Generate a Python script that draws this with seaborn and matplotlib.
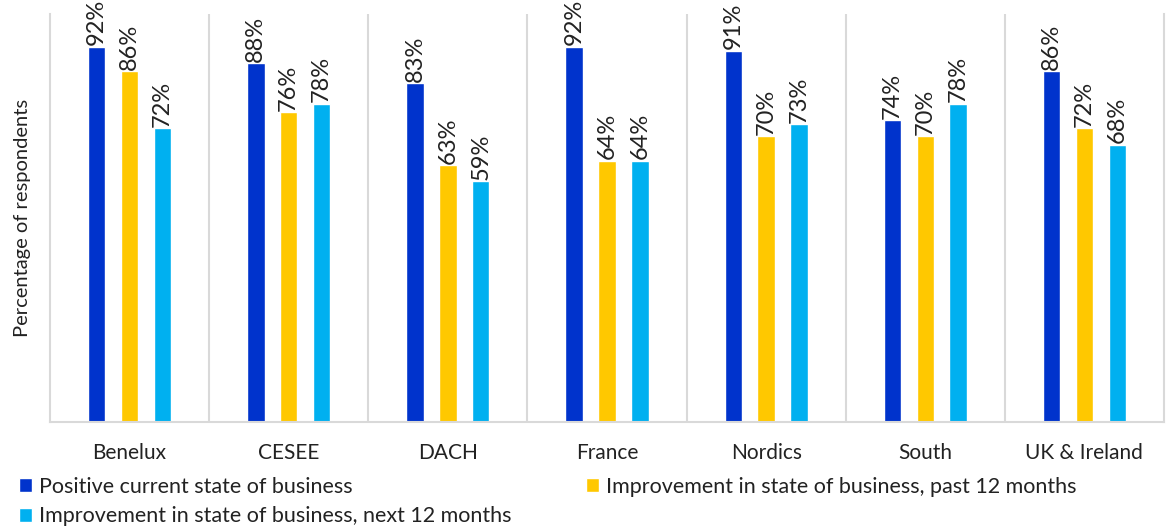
import pandas as pd
import matplotlib.pyplot as plt
import seaborn as sns

# Data
regions = ['Benelux', 'CESEE', 'DACH', 'France', 'Nordics', 'South', 'UK & Ireland']
series = ['Positive current state of business',
          'Improvement in state of business, past 12 months',
          'Improvement in state of business, next 12 months']
positive_now = [92, 88, 83, 92, 91, 74, 86]
improved_past = [86, 76, 63, 64, 70, 70, 72]
improve_next = [72, 78, 59, 64, 73, 78, 68]
colors = ['#0033CC', '#FFC800', '#00B0F0']

df = pd.DataFrame({
    'region': regions * 3,
    'series': [series[0]] * 7 + [series[1]] * 7 + [series[2]] * 7,
    'value': positive_now + improved_past + improve_next,
})

sns.set_style('white')
plt.rcParams['font.family'] = ['Lato', 'DejaVu Sans']

fig = plt.figure(figsize=(11.69, 5.28), dpi=100)
ax = fig.add_axes([0.0428, 0.2008, 0.9529, 0.7727])

sns.barplot(data=df, x='region', y='value', hue='series', hue_order=series,
            palette=colors, width=0.62, gap=0.47, saturation=1, ax=ax,
            legend=True)

for cont in ax.containers:
    vals = [int(b.get_height()) for b in cont]
    ax.bar_label(cont, labels=[f'{v}%' for v in vals], rotation=90,
                 padding=1, fontsize=17, color='#222222', clip_on=False)

ax.set_ylim(0, 100)
ax.set_xlim(-0.5, 6.5)
ax.set_yticks([])
ax.set_xlabel('')
ax.set_ylabel('Percentage of respondents', fontsize=14.5,
              color='#222222', labelpad=14)
ax.tick_params(axis='x', labelsize=15, colors='#222222', pad=15, length=0)

ax.set_xticks([i + 0.5 for i in range(6)], minor=True)
ax.tick_params(axis='x', which='minor', length=0)
ax.grid(True, axis='x', which='minor', color='#D9D9D9', linewidth=1.5)
for s in ['left', 'right', 'bottom']:
    ax.spines[s].set_color('#D9D9D9')
    ax.spines[s].set_linewidth(1.5)
ax.spines['top'].set_visible(False)

handles, labels = ax.get_legend_handles_labels()
ax.get_legend().remove()
order = [0, 2, 1]
leg = fig.legend([handles[i] for i in order], [labels[i] for i in order],
                 loc='upper left', bbox_to_anchor=(0.016, 0.097), ncol=2, frameon=False,
                 fontsize=15.5, handlelength=0.6, handleheight=0.6, handletextpad=0.35,
                 labelspacing=0.45, columnspacing=3.45, borderaxespad=0, borderpad=0)
for t in leg.get_texts():
    t.set_color('#222222')

fig.savefig('out.png', dpi=100)
